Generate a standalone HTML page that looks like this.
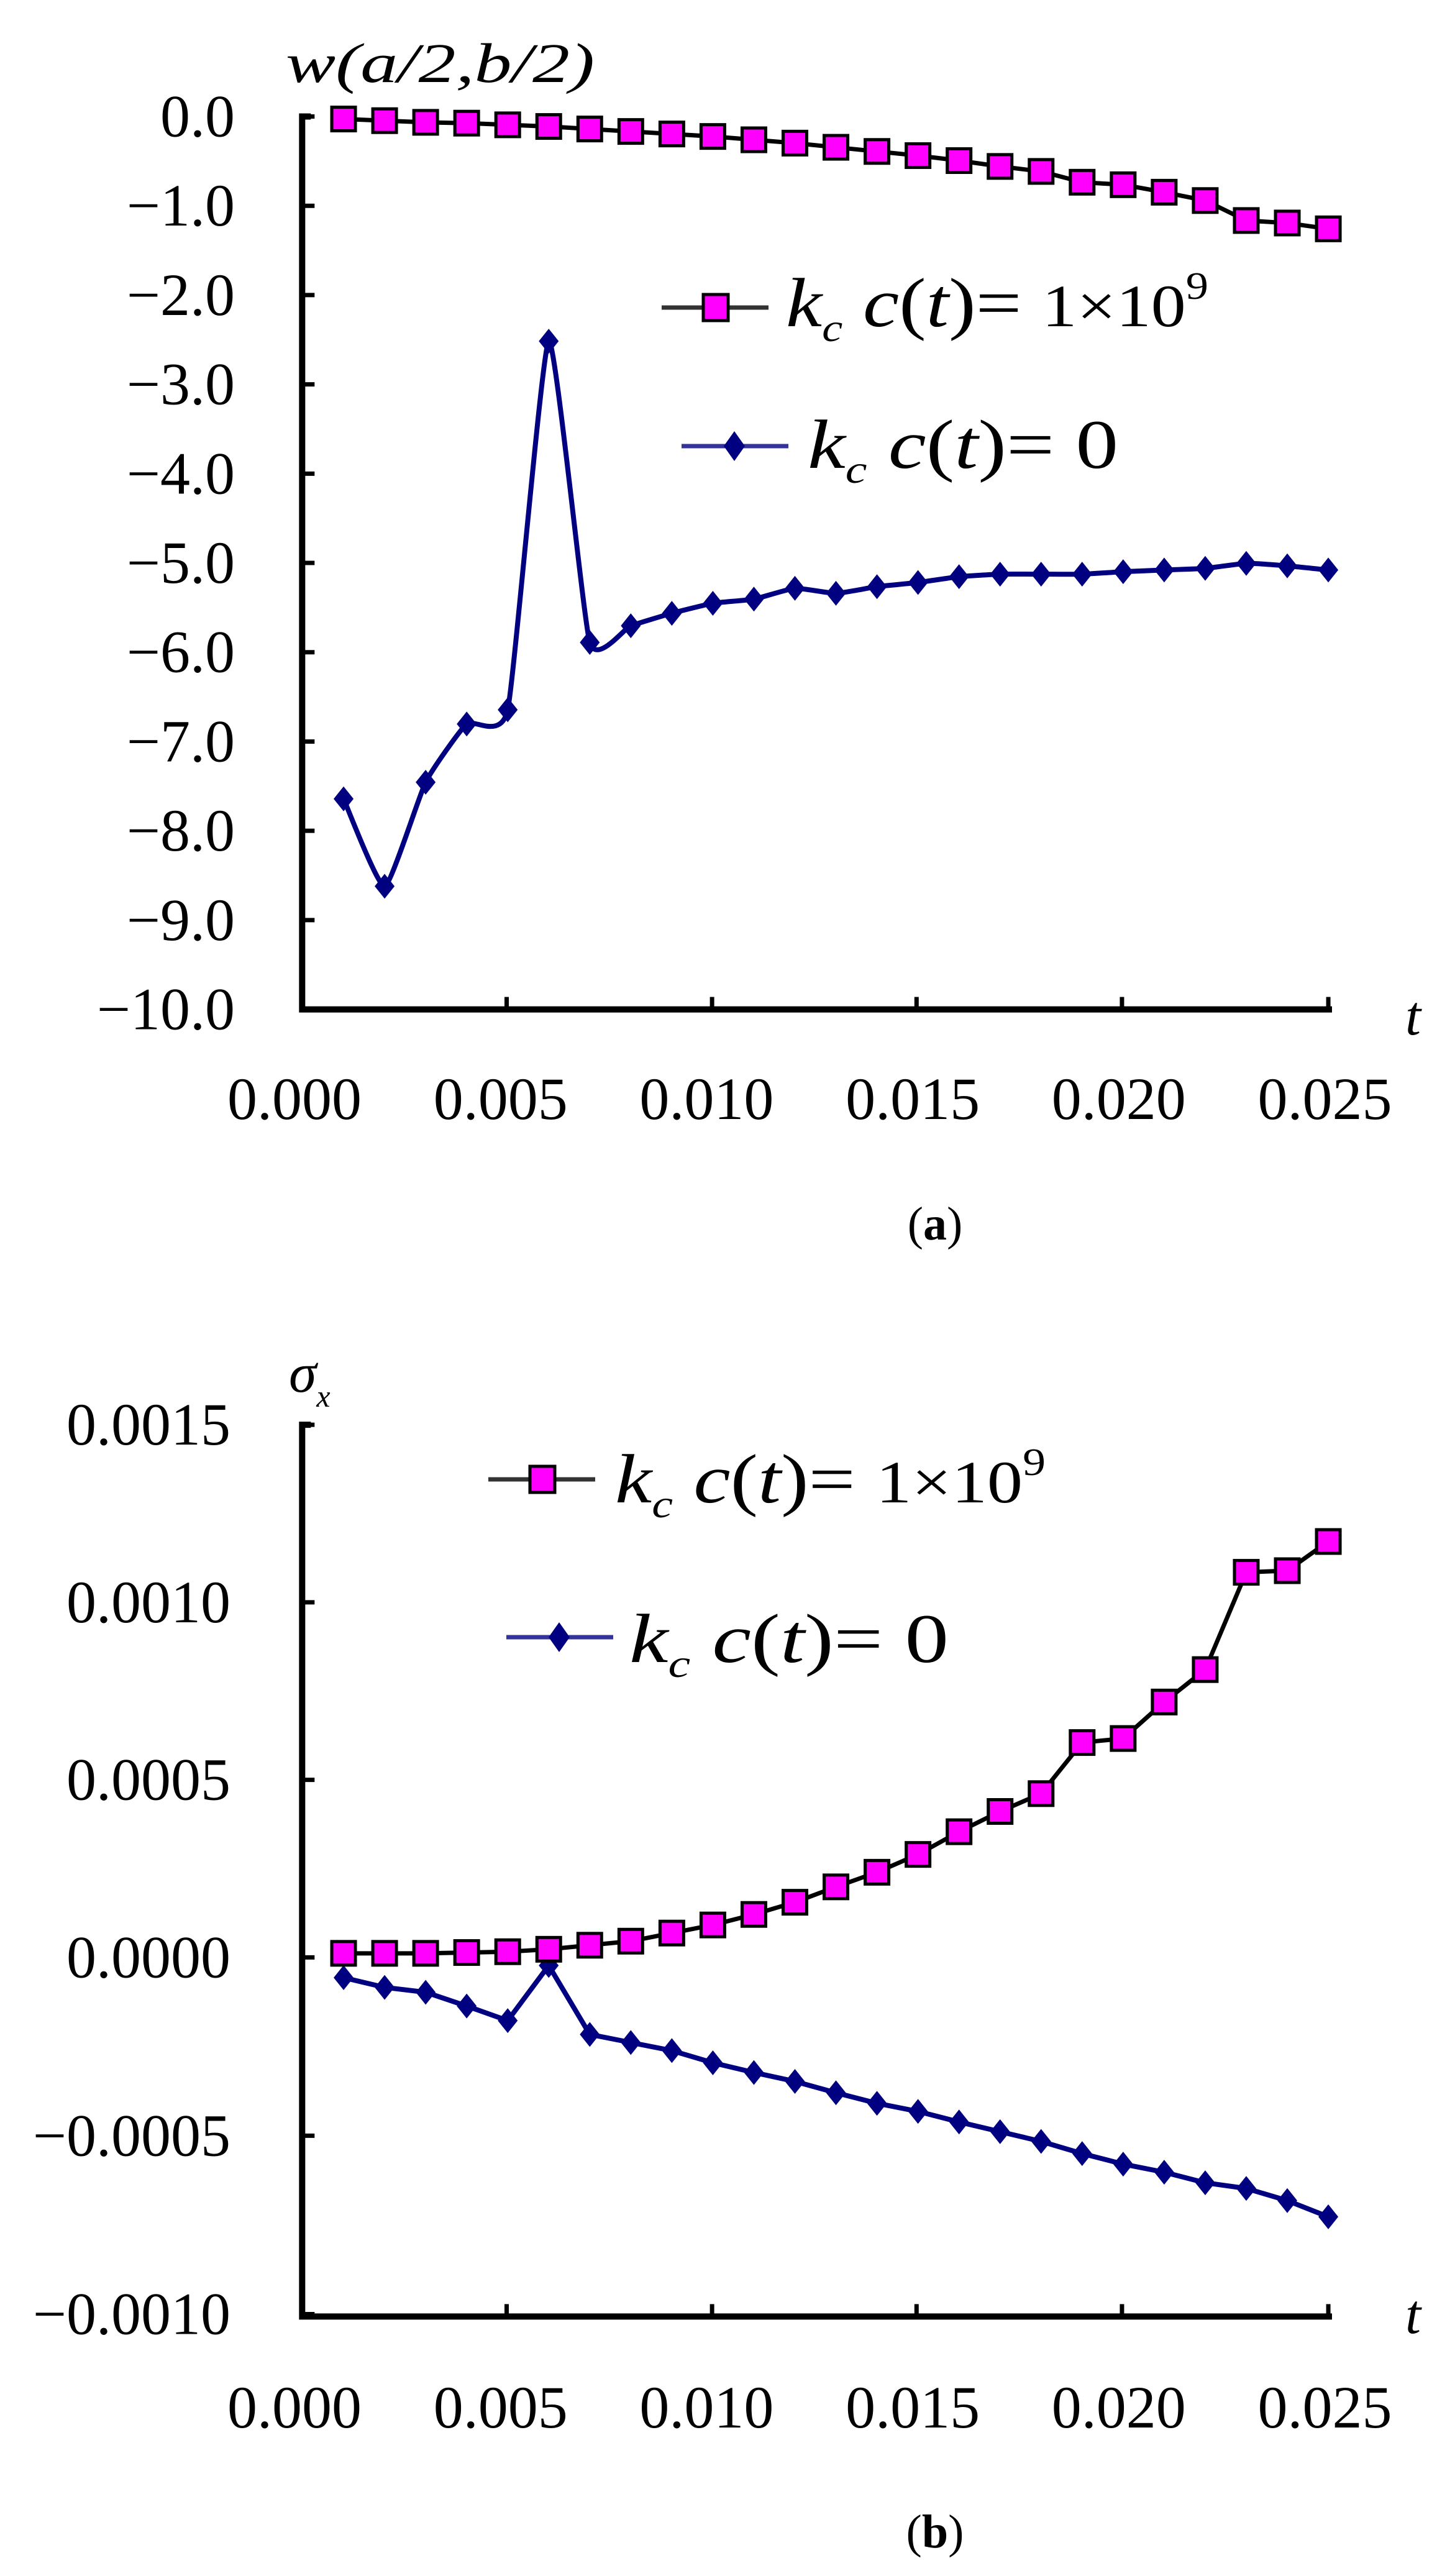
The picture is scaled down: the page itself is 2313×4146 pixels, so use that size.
<!DOCTYPE html>
<html><head><meta charset="utf-8"><style>
html,body{margin:0;padding:0;background:#fff;}
svg{display:block;}
text{font-family:"Liberation Serif",serif;fill:#000;}
</style></head><body>
<svg id="s" width="2313" height="4146" viewBox="0 0 2313 4146" xmlns="http://www.w3.org/2000/svg"></svg>
<script>
const NS="http://www.w3.org/2000/svg";
const S=document.getElementById('s');
function el(tag,attrs,txt){const e=document.createElementNS(NS,tag);for(const k in attrs)e.setAttribute(k,attrs[k]);if(txt!==undefined)e.innerHTML=txt;S.appendChild(e);return e;}
const SX=1.4827;
const X=i=>(373+i*(1442-373)/24)*SX;
function smooth(p){
  let d=`M${p[0][0]},${p[0][1]}`;
  for(let i=0;i<p.length-1;i++){
    const p0=p[i-1]||p[i],p1=p[i],p2=p[i+1],p3=p[i+2]||p2;
    const t=0.08;
    const c1=[p1[0]+(p2[0]-p0[0])*t,p1[1]+(p2[1]-p0[1])*t];
    const c2=[p2[0]-(p3[0]-p1[0])*t,p2[1]-(p3[1]-p1[1])*t];
    d+=`C${c1[0]},${c1[1]} ${c2[0]},${c2[1]} ${p2[0]},${p2[1]}`;
  }
  return d;
}
function chart(cfg){
  const fy=y=>cfg.off+y*cfg.k;
  const ax=328*SX, top=fy(cfg.top), bot=fy(cfg.bot), xr=1446*SX;
  el('path',{d:`M${ax+14},${top} H${ax} V${bot} H${xr}`,fill:'none',stroke:'#000','stroke-width':10});
  cfg.yt.forEach(([y,l])=>{
    const yy=fy(y);
    el('line',{x1:ax,x2:ax+20,y1:yy,y2:yy,stroke:'#000','stroke-width':7});
    el('text',{x:cfg.lr,y:yy+32,'text-anchor':'end','font-size':96},l);
  });
  [550,773,995,1218,1442].forEach(x=>el('line',{x1:x*SX,x2:x*SX,y1:bot,y2:bot-20,stroke:'#000','stroke-width':7}));
  ['0.000','0.005','0.010','0.015','0.020','0.025'].forEach((l,i)=>el('text',{x:474+i*331.7,y:cfg.xl,'text-anchor':'middle','font-size':96},l));
  el('text',{x:2262,y:cfg.tY,'font-size':90,'font-style':'italic',fill:'#555'},'t');
  const bp=cfg.blue.map((y,i)=>[X(i),fy(y)]);
  if(cfg.smooth) el('path',{d:smooth(bp),fill:'none',stroke:'#000080','stroke-width':8,'stroke-linejoin':'round'});
  else el('polyline',{points:bp.map(p=>p.join(',')).join(' '),fill:'none',stroke:'#000080','stroke-width':8,'stroke-linejoin':'round'});
  bp.forEach(([x,y])=>el('path',{d:`M${x},${y-20}L${x+16},${y}L${x},${y+20}L${x-16},${y}Z`,fill:'#000080'}));
  const pp=cfg.pink.map((y,i)=>[X(i),fy(y)]);
  el('polyline',{points:pp.map(p=>p.join(',')).join(' '),fill:'none',stroke:'#000','stroke-width':7});
  pp.forEach(([x,y])=>el('rect',{x:x-19,y:y-19,width:38,height:38,fill:'#ff00ff',stroke:'#000','stroke-width':5}));
  const L=cfg.leg;
  el('line',{x1:L.p[0],x2:L.p[0]+172,y1:L.p[1],y2:L.p[1],stroke:'#333','stroke-width':7});
  el('rect',{x:L.p[0]+67,y:L.p[1]-21,width:40,height:42,fill:'#ff00ff',stroke:'#000','stroke-width':5});
  el('text',{x:L.p[2],y:L.p[3],'font-size':112,textLength:L.p[4],lengthAdjust:'spacingAndGlyphs'},'<tspan font-style="italic">k</tspan><tspan font-style="italic" font-size="64" dy="24">c</tspan><tspan dy="-24" font-style="italic"> c</tspan>(<tspan font-style="italic">t</tspan>)= <tspan font-size="96">1×10</tspan><tspan font-size="62" dy="-44">9</tspan>');
  el('line',{x1:L.b[0],x2:L.b[0]+172,y1:L.b[1],y2:L.b[1],stroke:'#333399','stroke-width':7});
  el('path',{d:`M${L.b[0]+85},${L.b[1]-24}L${L.b[0]+102},${L.b[1]}L${L.b[0]+85},${L.b[1]+24}L${L.b[0]+68},${L.b[1]}Z`,fill:'#000080'});
  el('text',{x:L.b[2],y:L.b[3],'font-size':112,textLength:L.b[4],lengthAdjust:'spacingAndGlyphs'},'<tspan font-style="italic">k</tspan><tspan font-style="italic" font-size="64" dy="24">c</tspan><tspan dy="-24" font-style="italic"> c</tspan>(<tspan font-style="italic">t</tspan>)= 0');
}
const ya=[];for(let i=0;i<=10;i++)ya.push([140+i*107.3,(i==0?'0.0':'\u2212'+i+'.0')]);
chart({off:0,k:1.3393,top:140,bot:1213,lr:378,xl:1801,tY:1665,yt:ya,smooth:true,
 pink:[143,145,147,148,150,152,155,158,161,164,168,172,177,182,187,193,200,206,219,222,231,241,265,268,275],
 blue:[960,1065,940,870,853,410,772,752,737,725,720,707,713,705,700,693,690,690,690,687,685,683,677,680,685],
 leg:{p:[1065,495,1265,525,680],b:[1097,718,1300,753,500]}});
el('text',{x:460,y:132,'font-size':90,'font-style':'italic',fill:'#333',textLength:497,lengthAdjust:'spacingAndGlyphs'},'w(a/2,b/2)');
el('text',{x:1505,y:1995,'text-anchor':'middle','font-size':76},'(<tspan font-weight="bold">a</tspan>)');
chart({off:2100,k:1.3048,top:148,bot:1248,lr:371,xl:3907,tY:3755,
 yt:[[148,'0.0015'],[367,'0.0010'],[586,'0.0005'],[805,'0.0000'],[1025,'\u22120.0005'],[1245,'\u22120.0010']],
 pink:[800,800,800,799,798,795,790,785,775,765,752,737,718,700,678,650,625,603,540,535,490,450,330,328,292],
 blue:[830,842,848,865,883,815,900,910,920,935,947,958,972,985,995,1008,1020,1032,1047,1060,1070,1083,1090,1105,1125],
 leg:{p:[786,2381,990,2418,693],b:[815,2635,1013,2675,514]}});
el('text',{x:465,y:2240,'font-size':90,'font-style':'italic',fill:'#333'},'σ<tspan font-size="50" dy="24">x</tspan>');
el('text',{x:1505,y:4100,'text-anchor':'middle','font-size':76},'(<tspan font-weight="bold">b</tspan>)');
</script>
</body></html>
